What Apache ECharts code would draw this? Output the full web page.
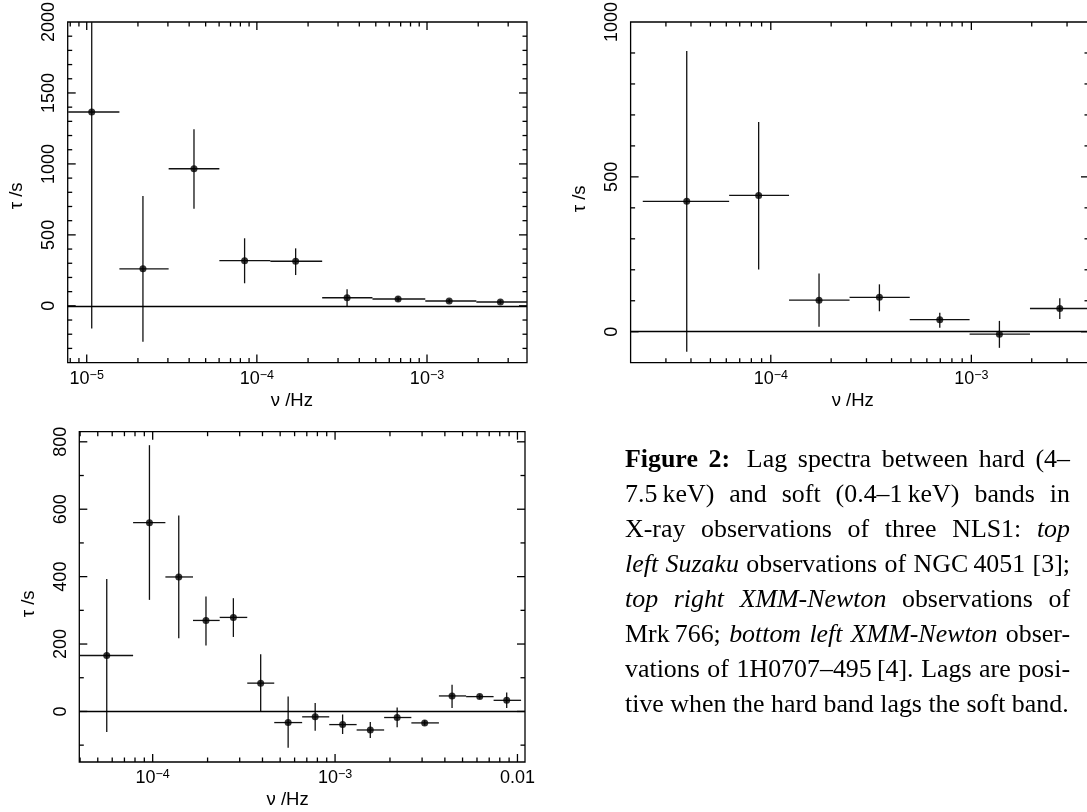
<!DOCTYPE html>
<html>
<head>
<meta charset="utf-8">
<script src="https://cdn.jsdelivr.net/npm/echarts@6/dist/echarts.min.js"></script>
<style>
html,body{margin:0;padding:0;background:#fff;}
#chart{width:1087px;height:812px;}
</style>
</head>
<body>
<div id="chart"></div>
<script>
// ---------------- DATA ----------------
// Top left: Suzaku, NGC 4051
const freqA  = [1.07e-5, 2.14e-5, 4.27e-5, 8.47e-5, 1.69e-4, 3.39e-4, 6.76e-4, 1.35e-3, 2.70e-3];
const binLoA = [7.78e-6, 1.556e-5, 3.03e-5, 6.02e-5, 1.20e-4, 2.42e-4, 4.78e-4, 9.77e-4, 1.95e-3];
const binHiA = [1.556e-5, 3.03e-5, 6.02e-5, 1.20e-4, 2.42e-4, 4.78e-4, 9.77e-4, 1.95e-3, 3.9e-3];
const tauA   = [1366, 261, 966, 318, 314, 57, 48, 34, 27];
const tauLoA = [-159, -253, 684, 159, 217, -2, 30, 20, 14];
const tauHiA = [2900, 774, 1244, 476, 405, 116, 66, 48, 40];

// Top right: XMM-Newton, Mrk 766
const freqB  = [3.81e-5, 8.7e-5, 1.74e-4, 3.48e-4, 6.96e-4, 1.38e-3, 2.76e-3];
const binLoB = [2.3e-5, 6.2e-5, 1.233e-4, 2.47e-4, 4.93e-4, 9.8e-4, 1.96e-3];
const binHiB = [6.2e-5, 1.233e-4, 2.47e-4, 4.93e-4, 9.8e-4, 1.96e-3, 3.9e-3];
const tauB   = [421, 440, 102, 111, 39, -8, 75];
const tauLoB = [-65, 201, 16, 66, 13, -52, 41];
const tauHiB = [906, 677, 188, 153, 61, 35, 108];

// Bottom left: XMM-Newton, 1H0707-495
const freqC  = [5.60e-5, 9.6e-5, 1.39e-4, 1.96e-4, 2.77e-4, 3.91e-4, 5.53e-4, 7.78e-4, 1.10e-3, 1.56e-3, 2.19e-3, 3.10e-3, 4.38e-3, 6.21e-3, 8.73e-3];
const binLoC = [3.9e-5, 7.81e-5, 1.174e-4, 1.664e-4, 2.33e-4, 3.30e-4, 4.64e-4, 6.60e-4, 9.29e-4, 1.313e-3, 1.858e-3, 2.62e-3, 3.71e-3, 5.23e-3, 7.40e-3];
const binHiC = [7.81e-5, 1.174e-4, 1.664e-4, 2.33e-4, 3.30e-4, 4.64e-4, 6.60e-4, 9.29e-4, 1.313e-3, 1.858e-3, 2.62e-3, 3.71e-3, 5.23e-3, 7.40e-3, 1.047e-2];
const tauC   = [166, 560, 399, 270, 279, 84, -33, -16, -39, -55, -18, -34, 46, 44, 33];
const tauLoC = [-61, 331, 217, 196, 221, -1, -108, -57, -67, -79, -47, -42, 10, 38, 10];
const tauHiC = [393, 790, 581, 341, 336, 170, 44, 25, -9, -31, 12, -26, 79, 50, 56];

// Tick-label texts
const xDecadeLabelsAB = {'-5': ['10', '\u22125'], '-4': ['10', '\u22124'], '-3': ['10', '\u22123']};
const xDecadeLabelsC  = {'-4': ['10', '\u22124'], '-3': ['10', '\u22123'], '-2': ['0.01', '']};
const xTitle = '\u03bd /Hz';
const yTitle = '\u03c4 /s';

// Caption (word, style: b=bold, r=roman, i=italic)
const captionLines = [
  [['Figure','b'],['2:','b'],['Lag','r'],['spectra','r'],['between','r'],['hard','r'],['(4\u2013','r']],
  [['7.5\u2009keV)','r'],['and','r'],['soft','r'],['(0.4\u20131\u2009keV)','r'],['bands','r'],['in','r']],
  [['X-ray','r'],['observations','r'],['of','r'],['three','r'],['NLS1:','r'],['top','i']],
  [['left','i'],['Suzaku','i'],['observations','r'],['of','r'],['NGC\u20094051','r'],['[3];','r']],
  [['top','i'],['right','i'],['XMM-Newton','i'],['observations','r'],['of','r']],
  [['Mrk\u2009766;','r'],['bottom','i'],['left','i'],['XMM-Newton','i'],['obser-','r']],
  [['vations','r'],['of','r'],['1H0707\u2013495\u2009[4].','r'],['Lags','r'],['are','r'],['posi-','r']],
  [['tive','r'],['when','r'],['the','r'],['hard','r'],['band','r'],['lags','r'],['the','r'],['soft','r'],['band.','r']]
];

// ---------------- LAYOUT / STYLE ----------------
const SANS = '"Liberation Sans", Arial, Helvetica, sans-serif';
const SERIF = '"Liberation Serif", "Times New Roman", Times, serif';
const INK = '#000';
const LW = 1.3;

const panels = [
  { grid: {left: 67.7, top: 22, width: 459.3, height: 340.6},
    xMin: 7.73e-6, xMax: 3.87e-3, yMin: -400, yMax: 2000, ySplit: 5, yMajor: 500, yMinor: 100,
    labels: xDecadeLabelsAB, xNamePad: 11, yNamePad: 7,
    f: freqA, fLo: binLoA, fHi: binHiA, t: tauA, tLo: tauLoA, tHi: tauHiA },
  { grid: {left: 630.6, top: 22, width: 458.4, height: 340.7},
    xMin: 2.0e-5, xMax: 3.86e-3, yMin: -100, yMax: 1000, ySplit: 2, yMajor: 500, yMinor: 100,
    labels: xDecadeLabelsAB, xNamePad: 14, yNamePad: 13,
    f: freqB, fLo: binLoB, fHi: binHiB, t: tauB, tLo: tauLoB, tHi: tauHiB },
  { grid: {left: 79.3, top: 431.7, width: 445.7, height: 330.3},
    xMin: 3.96e-5, xMax: 1.10e-2, yMin: -150, yMax: 830, ySplit: 5, yMajor: 200, yMinor: 100,
    labels: xDecadeLabelsC, xNamePad: 29, yNamePad: 14,
    f: freqC, fLo: binLoC, fHi: binHiC, t: tauC, tLo: tauLoC, tHi: tauHiC }
];

function logTicks(min, max) {
  const major = [], minor = [];
  for (let e = -8; e <= 1; e++) {
    for (let k = 1; k <= 9; k++) {
      const v = k * Math.pow(10, e);
      if (v > min * 1.0005 && v < max / 1.0005) (k === 1 ? major : minor).push(v);
    }
  }
  return {major, minor};
}
function linTicks(min, max, minorStep, majorStep) {
  const out = [];
  for (let v = Math.ceil(min / minorStep) * minorStep; v <= max + 1e-9; v += minorStep) {
    const r = Math.round(v);
    if (r <= min || r >= max) continue;
    out.push([r, r % majorStep === 0 ? 1 : 0]);
  }
  return out;
}

const grids = [], xAxes = [], yAxes = [], series = [];

panels.forEach((p, i) => {
  grids.push(Object.assign({show: true, borderColor: INK, borderWidth: LW, backgroundColor: 'transparent',
    containLabel: false, outerBoundsMode: 'none'}, p.grid));

  xAxes.push({
    type: 'log', logBase: 10, gridIndex: i, min: p.xMin, max: p.xMax,
    axisLine: {show: false}, axisTick: {show: false}, splitLine: {show: false}, minorTick: {show: false},
    axisLabel: {
      show: true, margin: 6, color: INK,
      formatter: (v) => {
        const lg = Math.log10(v), e = Math.round(lg);
        if (Math.abs(lg - e) > 1e-6) return '';
        const l = p.labels[String(e)];
        if (!l) return '';
        return l[1] ? '{b|' + l[0] + '}{s|' + l[1] + '}' : '{b|' + l[0] + '}';
      },
      rich: {
        b: {fontSize: 18, fontFamily: SANS, color: INK, lineHeight: 20},
        s: {fontSize: 12.5, fontFamily: SANS, color: INK, lineHeight: 13, verticalAlign: 'top'}
      }
    },
    name: xTitle, nameLocation: 'middle', nameGap: 28.5,
    nameTextStyle: {fontSize: 18.5, fontFamily: SANS, color: INK, padding: [0, p.xNamePad, 0, 0]}
  });

  yAxes.push({
    type: 'value', gridIndex: i, min: p.yMin, max: p.yMax, splitNumber: p.ySplit,
    axisLine: {show: false}, axisTick: {show: false}, splitLine: {show: false}, minorTick: {show: false},
    axisLabel: {
      show: true, rotate: 90, margin: 9.5, color: INK, fontSize: 18, fontFamily: SANS,
      formatter: (v) => (Math.abs(v % p.yMajor) < 1e-9 && v >= p.yMin && v <= p.yMax) ? String(v) : ''
    },
    name: yTitle, nameLocation: 'middle', nameRotate: 90, nameGap: 41,
    nameTextStyle: {fontSize: 18.5, fontFamily: SANS, color: INK, padding: [0, p.yNamePad, 0, 0]}
  });

  // x ticks (bottom + mirrored on top), inward
  const lt = logTicks(p.xMin, p.xMax);
  const yMid = (p.yMin + p.yMax) / 2;
  const xTickData = lt.major.map(v => [v, yMid, 1]).concat(lt.minor.map(v => [v, yMid, 0]));
  series.push({
    type: 'custom', xAxisIndex: i, yAxisIndex: i, silent: true, z: 5,
    encode: {x: 0, y: 1},
    data: xTickData,
    renderItem: (params, api) => {
      const cs = params.coordSys;
      const x = api.coord([api.value(0), api.value(1)])[0];
      const L = api.value(2) ? 8 : 4.5;
      const st = {stroke: INK, lineWidth: LW};
      return {type: 'group', children: [
        {type: 'line', shape: {x1: x, y1: cs.y + cs.height, x2: x, y2: cs.y + cs.height - L}, style: st},
        {type: 'line', shape: {x1: x, y1: cs.y, x2: x, y2: cs.y + L}, style: st}
      ]};
    }
  });

  // y ticks (left + mirrored on right), inward
  const xRef = Math.sqrt(p.xMin * p.xMax);
  const yTickData = linTicks(p.yMin, p.yMax, p.yMinor, p.yMajor).map(d => [xRef, d[0], d[1]]);
  series.push({
    type: 'custom', xAxisIndex: i, yAxisIndex: i, silent: true, z: 5,
    encode: {x: 0, y: 1},
    data: yTickData,
    renderItem: (params, api) => {
      const cs = params.coordSys;
      const y = api.coord([api.value(0), api.value(1)])[1];
      const L = api.value(2) ? 8 : 4.5;
      const st = {stroke: INK, lineWidth: LW};
      return {type: 'group', children: [
        {type: 'line', shape: {x1: cs.x, y1: y, x2: cs.x + L, y2: y}, style: st},
        {type: 'line', shape: {x1: cs.x + cs.width, y1: y, x2: cs.x + cs.width - L, y2: y}, style: st}
      ]};
    }
  });

  // error bars
  const errData = p.f.map((f, k) => [f, p.t[k], p.fLo[k], p.fHi[k], p.tLo[k], p.tHi[k]]);
  series.push({
    type: 'custom', xAxisIndex: i, yAxisIndex: i, silent: true, z: 3,
    encode: {x: 0, y: 1},
    data: errData,
    renderItem: (params, api) => {
      const cs = params.coordSys;
      const c = api.coord([api.value(0), api.value(1)]);
      const a = api.coord([api.value(2), api.value(1)]);
      const b = api.coord([api.value(3), api.value(1)]);
      const lo = api.coord([api.value(0), api.value(4)]);
      const hi = api.coord([api.value(0), api.value(5)]);
      const cx = v => Math.max(cs.x, Math.min(cs.x + cs.width, v));
      const cy = v => Math.max(cs.y, Math.min(cs.y + cs.height, v));
      const st = {stroke: '#111', lineWidth: LW};
      return {type: 'group', children: [
        {type: 'line', shape: {x1: cx(a[0]), y1: c[1], x2: cx(b[0]), y2: c[1]}, style: st},
        {type: 'line', shape: {x1: c[0], y1: cy(lo[1]), x2: c[0], y2: cy(hi[1])}, style: st}
      ]};
    }
  });

  // points + zero line
  series.push({
    type: 'scatter', xAxisIndex: i, yAxisIndex: i, silent: true, z: 4,
    symbol: 'circle', symbolSize: 7,
    itemStyle: {color: INK},
    data: p.f.map((f, k) => [f, p.t[k]]),
    markLine: {
      silent: true, symbol: ['none', 'none'], animation: false,
      label: {show: false},
      lineStyle: {color: INK, width: LW, type: 'solid'},
      emphasis: {disabled: true},
      data: [{yAxis: 0}]
    }
  });
});

// ---------------- CAPTION (justified text) ----------------
const CAP = {left: 625, right: 1070, base0: 469, lead: 35, size: 25.9, labelGap: 6};
const mctx = document.createElement('canvas').getContext('2d');
function capFont(s) {
  return (s === 'i' ? 'italic' : 'normal') + ' ' + (s === 'b' ? 'bold' : 'normal') + ' ' + CAP.size + 'px ' + SERIF;
}
const graphic = [];
captionLines.forEach((line, li) => {
  const widths = line.map(([t, s]) => { mctx.font = capFont(s); return mctx.measureText(t).width; });
  const total = widths.reduce((a, b) => a + b, 0);
  const W = CAP.right - CAP.left;
  const last = li === captionLines.length - 1;
  // extra space after the bold "Figure 2:" label
  const extra = line.map(([t, s], k) => (s === 'b' && k < line.length - 1 && line[k + 1][1] !== 'b') ? CAP.labelGap : 0);
  const extraSum = extra.reduce((a, b) => a + b, 0);
  const gap = last ? CAP.size * 0.25 : (W - total - extraSum) / (line.length - 1);
  let x = CAP.left;
  const yMid = CAP.base0 + li * CAP.lead - CAP.size * 0.33;
  line.forEach(([t, s], k) => {
    graphic.push({
      type: 'text', x: x, y: yMid, silent: true,
      style: {text: t, font: capFont(s), fill: INK, align: 'left', verticalAlign: 'middle',
              textAlign: 'left', textVerticalAlign: 'middle'}
    });
    x += widths[k] + gap + extra[k];
  });
});

const chart = echarts.init(document.getElementById('chart'), null, {renderer: 'canvas'});
chart.setOption({
  animation: false,
  backgroundColor: '#fff',
  grid: grids,
  xAxis: xAxes,
  yAxis: yAxes,
  series: series,
  graphic: graphic
});
</script>
</body>
</html>
